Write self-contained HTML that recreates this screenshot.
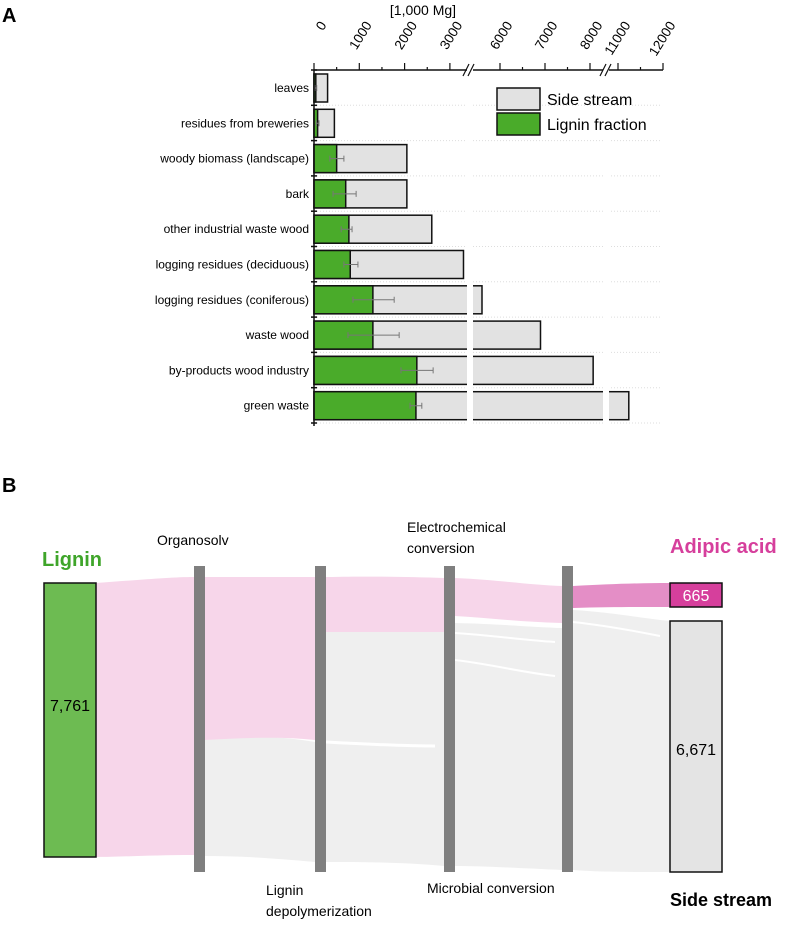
<!DOCTYPE html>
<html><head><meta charset="utf-8"><style>
body{margin:0;background:#fff;}
svg text{font-family:"Liberation Sans",Arial,sans-serif;}
</style></head><body>
<svg id="fig" width="796" height="921" viewBox="0 0 796 921" xmlns="http://www.w3.org/2000/svg">
<text x="2" y="22" font-size="20" font-weight="bold">A</text>
<text x="423" y="15" font-size="14" text-anchor="middle">[1,000 Mg]</text>
<g id="barchart"></g>
<g id="legend">
<rect x="497" y="88" width="43" height="22" fill="#e2e2e2" stroke="#111" stroke-width="1.5"/>
<text x="547" y="105" font-size="16">Side stream</text>
<rect x="497" y="113" width="43" height="22" fill="#4aab2a" stroke="#111" stroke-width="1.5"/>
<text x="547" y="130" font-size="16">Lignin fraction</text>
</g>

<text x="2" y="492" font-size="20" font-weight="bold">B</text>
<g id="sankey">
<path d="M205,740 C260,736 280,736 315,742 L315,862 C270,858 240,856 205,856 Z" fill="#efefef"/>
<path d="M326,632 L444,632 L444,866 C400,862 360,862 326,862 Z" fill="#efefef"/>
<path d="M326,742 C380,745 410,746 435,746" stroke="#fff" stroke-width="3" fill="none"/>
<path d="M455,623 C500,624 530,627 562,628 L562,870 C520,868 480,866 455,866 Z" fill="#efefef"/>
<path d="M455,633 C500,636 520,640 555,642" stroke="#fff" stroke-width="2" fill="none"/>
<path d="M455,660 C490,664 520,672 555,676" stroke="#fff" stroke-width="2" fill="none"/>
<path d="M573,610 C610,612 640,618 670,621 L670,872 C630,872 600,872 573,870 Z" fill="#efefef"/>
<path d="M573,622 C610,626 640,632 660,636" stroke="#fff" stroke-width="2" fill="none"/>
<path d="M96,583 C140,580 170,577 194,577 L194,855 C150,855 120,857 96,857 Z" fill="#f7d6ea"/>
<path d="M205,577 L315,577 L315,740 C280,736 240,738 205,740 Z" fill="#f7d6ea"/>
<path d="M326,577 C380,576 410,577 444,578 L444,632 L326,632 Z" fill="#f7d6ea"/>
<path d="M455,578 C500,580 530,585 562,586 L562,623 C520,622 490,618 455,616 Z" fill="#f7d6ea"/>
<path d="M573,586 C610,584 640,583 670,583 L670,607 C640,607 610,607 573,608 Z" fill="#e48ec6"/>
<rect x="194" y="566" width="11" height="306" fill="#7f7f7f"/>
<rect x="315" y="566" width="11" height="306" fill="#7f7f7f"/>
<rect x="444" y="566" width="11" height="306" fill="#7f7f7f"/>
<rect x="562" y="566" width="11" height="306" fill="#7f7f7f"/>
<rect x="44" y="583" width="52" height="274" fill="#6dbb52" stroke="#111" stroke-width="1.5"/>
<text x="70" y="711" font-size="16" text-anchor="middle">7,761</text>
<rect x="670" y="583" width="52" height="24" fill="#d63f9c" stroke="#111" stroke-width="1.5"/>
<text x="696" y="601" font-size="16" fill="#fff" text-anchor="middle">665</text>
<rect x="670" y="621" width="52" height="251" fill="#e4e4e4" stroke="#111" stroke-width="1.5"/>
<text x="696" y="755" font-size="16" text-anchor="middle">6,671</text>
<text x="42" y="566" font-size="20" font-weight="bold" fill="#3fa52a">Lignin</text>
<text x="157" y="545" font-size="14">Organosolv</text>
<text x="407" y="532" font-size="14">Electrochemical</text>
<text x="407" y="553" font-size="14">conversion</text>
<text x="670" y="553" font-size="20" font-weight="bold" fill="#d63f9c">Adipic acid</text>
<text x="266" y="895" font-size="14">Lignin</text>
<text x="266" y="916" font-size="14">depolymerization</text>
<text x="427" y="893" font-size="14">Microbial conversion</text>
<text x="670" y="906" font-size="18" font-weight="bold">Side stream</text>
</g>
</svg>
<script>
const categories=["leaves","residues from breweries","woody biomass (landscape)","bark","other industrial waste wood","logging residues (deciduous)","logging residues (coniferous)","waste wood","by-products wood industry","green waste"];
const sideStream=[300,450,2050,2050,2600,3300,5600,6900,8070,11240];
const lignin=[40,80,500,700,770,800,1300,1300,2270,2250];
const errLow=[20,50,350,420,600,660,860,750,1920,2120];
const errHigh=[60,110,660,930,840,970,1770,1880,2630,2380];
const tickValues=[0,1000,2000,3000,6000,7000,8000,11000,12000];
const tickLabels=["0","1000","2000","3000","6000","7000","8000","11000","12000"];
const minorTicks=[500,1500,2500,6500,7500,11500];

function xs(v){
  if(v<=5270) return 314+v*0.0453;
  if(v<=10780) return 500+(v-6000)*0.045;
  return 618+(v-11000)*0.045;
}
function ys(i){return 88+i*35.3;}
const NS="http://www.w3.org/2000/svg";
const g=document.getElementById('barchart');
function mk(tag,attrs,parent){const e=document.createElementNS(NS,tag);for(const k in attrs)e.setAttribute(k,attrs[k]);(parent||g).appendChild(e);return e;}

for(let i=0;i<=categories.length;i++){
  const y=70+i*35.3;
  if(i>0){const l=mk('line',{x1:314,x2:662,y1:y,y2:y,stroke:'#ddd','stroke-dasharray':'1,2'});
  
  }
  const t=mk('line',{x1:311,x2:317,y1:y,y2:y,stroke:'#111','stroke-width':1.5});
  
  
}
categories.forEach((c,i)=>{
  const yc=ys(i);
  const lab=mk('text',{x:309,y:yc+4,'font-size':12,'text-anchor':'end'});
  lab.textContent=c;
  
  
  const b=mk('rect',{x:314,y:yc-14,width:xs(sideStream[i])-314,height:28,fill:'#e2e2e2',stroke:'#111','stroke-width':1.5});
  
  
  const gb=mk('rect',{x:314,y:yc-14,width:xs(lignin[i])-314,height:28,fill:'#4aab2a',stroke:'#111','stroke-width':1.5});
  
  
  const x1=xs(errLow[i]),x2=xs(errHigh[i]);
  const e=mk('path',{d:`M${x1},${yc} H${x2} M${x1},${yc-3} V${yc+3} M${x2},${yc-3} V${yc+3}`,stroke:'#777','stroke-width':1,fill:'none'});
  
  
});
[[467,473],[603,609]].forEach(([a,b])=>{
  const r=mk('rect',{x:a,y:72,width:b-a,height:356,fill:'#fff'});
  
  
});
const ya=mk('line',{x1:314,x2:314,y1:70,y2:426,stroke:'#111','stroke-width':1.5});


const xa=mk('path',{d:'M314,70 H467 M473,70 H603 M609,70 H663',stroke:'#111','stroke-width':1.5,fill:'none'});


const br=mk('path',{d:'M463,76 L469,64 M468,76 L474,64 M600,76 L606,64 M605,76 L611,64',stroke:'#111','stroke-width':1.2,fill:'none'});


tickValues.forEach((v,i)=>{
  const x=xs(v);
  const t=mk('line',{x1:x,x2:x,y1:63,y2:70,stroke:'#111','stroke-width':1.2});
  
  
  const ax=x+13, ay=25;
  const lab=mk('text',{x:ax,y:ay,'font-size':13.5,'text-anchor':'end',transform:`rotate(-58 ${ax} ${ay})`});
  lab.textContent=tickLabels[i];
  
  
});
minorTicks.forEach(v=>{
  const x=xs(v);
  const t=mk('line',{x1:x,x2:x,y1:67,y2:70,stroke:'#111','stroke-width':1.2});
  
  
});
</script>
</body></html>
